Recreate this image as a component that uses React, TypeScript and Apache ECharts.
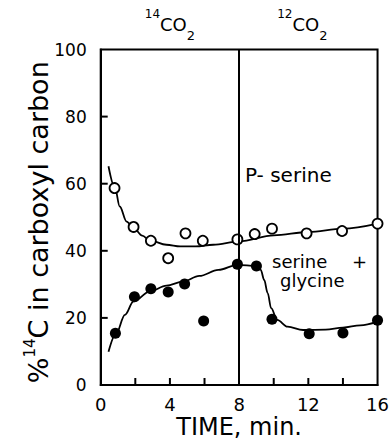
import React, { useEffect, useRef } from 'react';
import * as echarts from 'echarts';

// Open circles: P-serine
const pSerineTime = [0.8, 1.9, 2.9, 3.9, 4.9, 5.9, 7.9, 8.9, 9.9, 11.9, 13.95, 16];
const pSerine = [58.7, 47.1, 43.0, 37.8, 45.2, 43.0, 43.4, 45.0, 46.6, 45.2, 45.9, 48.1];
// Filled circles: serine + glycine
const serGlyTime = [0.85, 1.95, 2.9, 3.9, 4.85, 5.95, 7.9, 9.0, 9.9, 12.05, 14, 16];
const serGly = [15.4, 26.3, 28.7, 27.7, 30.1, 19.1, 36.0, 35.5, 19.6, 15.3, 15.5, 19.3];
// Hand-drawn fitted curves
const pFitTime = [0.45, 0.83, 1.1, 1.5, 1.9, 2.4, 2.85, 3.8, 4.6, 5.5, 6.5, 8, 10, 12, 14, 16];
const pFit = [65.2, 58.7, 53.2, 48.7, 46.8, 44.5, 43.1, 41.8, 41.3, 41.3, 41.8, 42.8, 44.6, 45.6, 46.6, 48.1];
const sFitTime = [0.45, 0.9, 1.4, 1.9, 2.85, 3.8, 4.75, 5.7, 6.8, 7.9, 9.0, 9.25, 9.45, 9.65, 9.85, 10.2, 10.8, 11.7, 13, 14, 15, 16];
const sFit = [9.9, 15.4, 20.9, 24.9, 27.9, 29.6, 30.8, 32.5, 34.3, 35.8, 35.5, 34.3, 31.3, 27.4, 22.9, 19.4, 17.4, 16.4, 16.5, 17.1, 17.8, 18.9];
// Gas switch
const switchTime = 8;
const gasIsotopes = ['14', '12'];
const gasPositions = [4, 11.65];
// Inner tick marks
const xTickValues = [2, 4, 6, 10, 12, 14];
const yTickValues = [20, 40, 60, 80];

const zip = (xs: number[], ys: number[]) => xs.map((x, i) => [x, ys[i]]);

const FONT = 'DejaVu Sans';
const TICK_LEN = 7;

export default function App() {
  const ref = useRef<HTMLDivElement>(null);
  useEffect(() => {
    if (!ref.current) return;
    const chart = echarts.init(ref.current, undefined, { renderer: 'svg' });

    const tickSeries = (values: number[][], dx: number, dy: number) => ({
      type: 'custom',
      silent: true,
      clip: false,
      z: 5,
      data: values,
      renderItem: (_params: any, api: any) => {
        const p = api.coord([api.value(0), api.value(1)]);
        return {
          type: 'line',
          shape: { x1: p[0], y1: p[1], x2: p[0] + dx * TICK_LEN, y2: p[1] + dy * TICK_LEN },
          style: { stroke: '#000', lineWidth: 2 },
        };
      },
    });

    chart.setOption({
      animation: false,
      backgroundColor: '#fff',
      textStyle: { fontFamily: FONT, color: '#000' },
      grid: {
        left: 100.7, right: 13.7, top: 49.5, bottom: 62,
        show: true, borderColor: '#000', borderWidth: 2, backgroundColor: 'transparent',
      },
      xAxis: [
        {
          type: 'value', min: 0, max: 16, interval: 2,
          axisLine: { show: true, lineStyle: { color: '#000', width: 2 } },
          axisTick: { show: false },
          splitLine: { show: false },
          axisLabel: {
            color: '#000', fontFamily: FONT, fontSize: 18, margin: 10,
            formatter: (v: number) => (v % 4 === 0 ? String(v) : ''),
          },
          name: 'TIME, min.', nameLocation: 'middle', nameGap: 30, nameMoveOverlap: false,
          nameTextStyle: { color: '#000', fontFamily: FONT, fontSize: 24 },
        },
        {
          type: 'value', min: 0, max: 16, position: 'top',
          axisLine: { show: false }, axisTick: { show: false }, splitLine: { show: false },
          axisLabel: {
            customValues: gasPositions, margin: 8, color: '#000',
            formatter: (v: number) => {
              const i = gasPositions.indexOf(v);
              return `{sup|${gasIsotopes[i]}}{m|CO}{sub|2}`;
            },
            rich: {
              sup: { fontFamily: FONT, fontSize: 12, verticalAlign: 'top', lineHeight: 12, color: '#000' },
              m: { fontFamily: FONT, fontSize: 18, lineHeight: 34, color: '#000' },
              sub: { fontFamily: FONT, fontSize: 13, verticalAlign: 'bottom', lineHeight: 30, color: '#000' },
            },
          },
        },
      ],
      yAxis: {
        type: 'value', min: 0, max: 100, interval: 20,
        axisLine: { show: true, lineStyle: { color: '#000', width: 2 } },
        axisTick: { show: false },
        splitLine: { show: false },
        axisLabel: { color: '#000', fontFamily: FONT, fontSize: 17, margin: 14 },
        name: '{p|%}{sup|14}{m|C in carboxyl carbon}',
        nameLocation: 'middle', nameRotate: 90, nameGap: 46, nameMoveOverlap: false,
        nameTextStyle: {
          padding: [0, 10, 0, 0],
          rich: {
            p: { fontFamily: FONT, fontSize: 27, lineHeight: 32, color: '#000' },
            sup: { fontFamily: FONT, fontSize: 15, verticalAlign: 'top', lineHeight: 15, color: '#000' },
            m: { fontFamily: FONT, fontSize: 27, lineHeight: 32, color: '#000' },
          },
        },
      },
      series: [
        {
          type: 'line', data: zip(pFitTime, pFit), smooth: 0.35, smoothMonotone: 'x',
          symbol: 'none', lineStyle: { color: '#000', width: 1.8 }, z: 2,
          markLine: {
            silent: true, symbol: ['none', 'none'], label: { show: false },
            lineStyle: { color: '#000', width: 2, type: 'solid' },
            data: [{ xAxis: switchTime }],
          },
        },
        {
          type: 'line', data: zip(sFitTime, sFit), smooth: 0.35, smoothMonotone: 'x',
          symbol: 'none', lineStyle: { color: '#000', width: 1.8 }, z: 2,
        },
        {
          type: 'scatter', data: zip(pSerineTime, pSerine), symbol: 'circle', symbolSize: 10, clip: false,
          itemStyle: { color: '#fff', borderColor: '#000', borderWidth: 1.8, opacity: 1 }, z: 3,
        },
        {
          type: 'scatter', data: zip(serGlyTime, serGly), symbol: 'circle', symbolSize: 11, clip: false,
          itemStyle: { color: '#000', opacity: 1 }, z: 3,
        },
        tickSeries(xTickValues.map((v) => [v, 0]), 0, -1),
        tickSeries(yTickValues.map((v) => [0, v]), 1, 0),
      ],
      graphic: [
        { type: 'text', left: 245, top: 165, style: { text: 'P- serine', fontFamily: FONT, fontSize: 20, fill: '#000' } },
        { type: 'text', left: 272, top: 252, style: { text: 'serine', fontFamily: FONT, fontSize: 18, fill: '#000' } },
        { type: 'text', left: 352, top: 252, style: { text: '+', fontFamily: FONT, fontSize: 18, fill: '#000' } },
        { type: 'text', left: 280, top: 271, style: { text: 'glycine', fontFamily: FONT, fontSize: 18, fill: '#000' } },
      ],
    });
    return () => chart.dispose();
  }, []);
  return <div ref={ref} style={{ width: 392, height: 447, position: 'absolute', left: 0, top: 0 }} />;
}
